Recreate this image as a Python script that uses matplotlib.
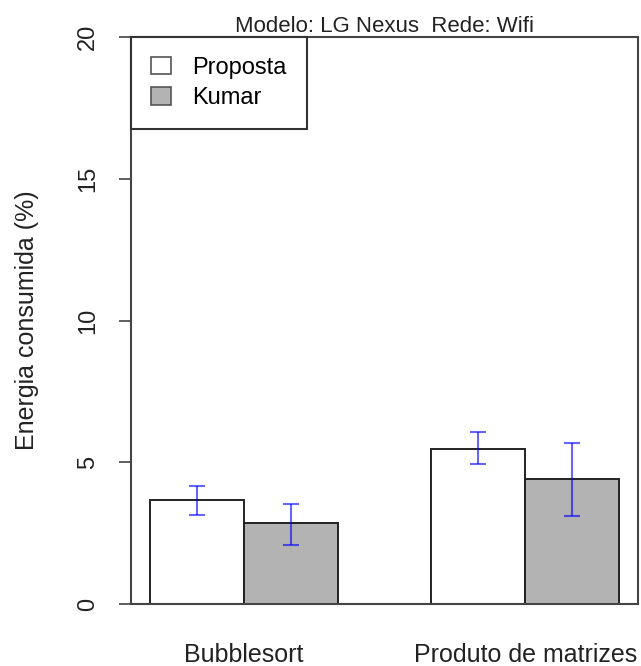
import numpy as np
import matplotlib
matplotlib.use("Agg")
import matplotlib.pyplot as plt

plt.rcParams['font.family'] = ['Liberation Sans', 'DejaVu Sans']

# data
categorias = ["Bubblesort", "Produto de matrizes"]
series = ["Proposta", "Kumar"]
proposta = [3.67, 5.48]
proposta_sup = [4.17, 6.06]
proposta_inf = [3.14, 4.94]
kumar = [2.85, 4.41]
kumar_sup = [3.52, 5.68]
kumar_inf = [2.08, 3.12]

cores = ["white", "#b3b3b3"]

fig = plt.figure(figsize=(6.41, 6.66), dpi=100)
ax = fig.add_axes([131/641, 1 - 604/666, 507/641, 567/666])

# R-style beside barplot: bars of width 1, one gap between groups
centro = np.array([2.0, 5.0])
valores = [proposta, kumar]
sup = [proposta_sup, kumar_sup]
inf = [proposta_inf, kumar_inf]
for i, nome in enumerate(series):
    x = centro - 0.5 + i
    ax.bar(x, valores[i], width=1.0, color=cores[i], edgecolor="#222222",
           linewidth=1.4, label=nome, zorder=2)
    v = np.array(valores[i])
    yerr = [v - np.array(inf[i]), np.array(sup[i]) - v]
    ax.errorbar(x, v, yerr=yerr, fmt="none", ecolor="blue", alpha=0.6,
                elinewidth=1.5, capsize=6, capthick=1.5, zorder=3)

ax.set_xlim(0.8, 6.2)
ax.set_ylim(0, 20)
ax.set_yticks([0, 5, 10, 15, 20])
ax.set_xticks(centro)
ax.set_xticklabels(categorias, fontsize=18, color="#222222")
ax.tick_params(axis="x", length=0, pad=28)
ax.tick_params(axis="y", length=9, width=1.2, color="#444444", pad=14,
               labelsize=17, labelcolor="#222222")
for lab in ax.get_yticklabels():
    lab.set_rotation(90)
    lab.set_va("center")

for s in ax.spines.values():
    s.set_color("#444444")
    s.set_linewidth(1.5)

ax.set_ylabel("Energia consumida (%)", fontsize=18, color="#222222")
ax.yaxis.set_label_coords(-0.182, 0.5)
ax.set_title("Modelo: LG Nexus  Rede: Wifi", fontsize=16, pad=3, color="#222222")

leg = ax.legend(loc="upper left", bbox_to_anchor=(0, 1), borderaxespad=0,
                fancybox=False, edgecolor="#333333", fontsize=17,
                handlelength=0.85, handleheight=0.75, handletextpad=0.9,
                borderpad=0.85, labelspacing=0.35, framealpha=1)
leg.get_frame().set_linewidth(1.5)
for h in leg.legend_handles:
    h.set_edgecolor("#555555")
    h.set_linewidth(1.2)

fig.savefig("out.png", dpi=100)
